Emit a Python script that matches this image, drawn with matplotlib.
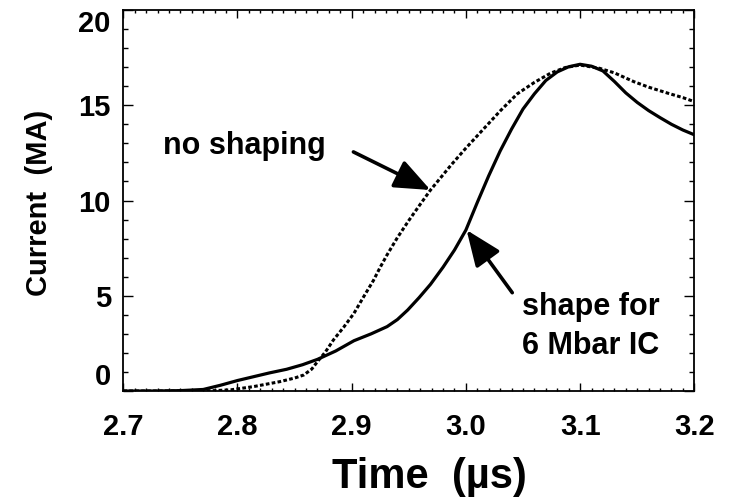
import matplotlib
matplotlib.use("Agg")
import matplotlib.pyplot as plt
from matplotlib.patches import FancyArrowPatch
from matplotlib.ticker import MultipleLocator

plt.rcParams['font.family'] = ['Liberation Sans', 'DejaVu Sans']
plt.rcParams['font.weight'] = 'bold'

# shape for 6 Mbar IC (solid)
t_shaped = [2.70, 2.726, 2.75, 2.770, 2.785, 2.80, 2.814, 2.828, 2.843, 2.857, 2.870,
            2.886, 2.902, 2.917, 2.931, 2.940, 2.949, 2.959, 2.969, 2.980, 2.990,
            3.000, 3.010, 3.020, 3.030, 3.040, 3.050, 3.060, 3.070, 3.080, 3.090,
            3.100, 3.110, 3.120, 3.130, 3.140, 3.150, 3.160, 3.170, 3.180, 3.190, 3.200]
i_shaped = [0.0, 0.0, 0.02, 0.08, 0.3, 0.55, 0.75, 0.95, 1.14, 1.38, 1.66,
            2.1, 2.64, 3.0, 3.38, 3.75, 4.25, 4.9, 5.6, 6.5, 7.4,
            8.45, 9.9, 11.3, 12.6, 13.75, 14.8, 15.6, 16.3, 16.75, 17.02,
            17.15, 17.05, 16.8, 16.25, 15.65, 15.15, 14.72, 14.35, 14.0, 13.7, 13.45]

# no shaping (dashed)
t_noshape = [2.70, 2.764, 2.78, 2.794, 2.814, 2.837, 2.850, 2.858, 2.865, 2.870, 2.877,
             2.884, 2.893, 2.902, 2.910, 2.919, 2.925, 2.931, 2.940, 2.950, 2.960,
             2.969, 2.980, 2.987, 3.000, 3.010, 3.020, 3.030, 3.045, 3.060, 3.074,
             3.087, 3.100, 3.117, 3.130, 3.147, 3.160, 3.177, 3.190, 3.200]
i_noshape = [0.0, 0.0, 0.02, 0.06, 0.23, 0.49, 0.68, 0.84, 1.15, 1.54, 2.05,
             2.68, 3.35, 4.08, 4.9, 5.8, 6.5, 7.15, 8.05, 8.95, 9.8,
             10.55, 11.35, 11.86, 12.75, 13.4, 14.05, 14.7, 15.6, 16.2, 16.68,
             16.98, 17.11, 16.94, 16.7, 16.24, 15.95, 15.63, 15.4, 15.19]

x_ticks = [2.7, 2.8, 2.9, 3.0, 3.1, 3.2]
x_ticklabels = ["2.7", "2.8", "2.9", "3.0", "3.1", "3.2"]
y_ticks = [0, 5, 10, 15, 20]
y_ticklabels = ["0", "5", "10", "15", "20"]

fig = plt.figure(figsize=(7.32, 5.00), dpi=100)
ax = fig.add_axes([123.3 / 732, 1 - 391 / 500, (694.3 - 123.3) / 732, (391 - 10) / 500])

ax.plot(t_noshape, i_noshape, color='black', lw=2.2, linestyle=(0, (1.2, 0.75)))
ax.plot(t_shaped, i_shaped, color='black', lw=2.3, solid_capstyle='round',
        solid_joinstyle='round')

ax.set_xlim(2.7, 3.2)
ax.set_ylim(0, 20)
ax.set_xticks(x_ticks)
ax.set_xticklabels(x_ticklabels)
ax.set_yticks(y_ticks)
ax.set_yticklabels(y_ticklabels)
ax.xaxis.set_minor_locator(MultipleLocator(0.01))
ax.yaxis.set_minor_locator(MultipleLocator(1))

ax.tick_params(axis='both', which='both', direction='in', top=True, right=True,
               width=1.0, colors='black')
ax.tick_params(axis='x', which='major', length=5.5, pad=16, labelsize=21)
ax.tick_params(axis='x', which='minor', length=2.5)
ax.tick_params(axis='y', which='major', length=7.5, pad=9, labelsize=21)
ax.tick_params(axis='y', which='minor', length=3.5)
for lab in ax.get_xticklabels() + ax.get_yticklabels():
    lab.set_fontweight('bold')
ylabs = ax.get_yticklabels()
ylabs[0].set_verticalalignment('bottom')
ylabs[-1].set_verticalalignment('top')
for sp in ax.spines.values():
    sp.set_linewidth(1.3)

ax.text(0.537, -0.2546, "Time  (\u00b5s)", transform=ax.transAxes, ha='center',
        va='baseline', fontsize=30, fontweight='bold')
ax.text(-0.1476, 0.493, "Current  (MA)", transform=ax.transAxes, ha='center',
        va='center', rotation=90, fontsize=21, fontweight='bold')

ax.text(2.735, 12.44, "no shaping", ha='left', va='baseline', fontsize=22,
        fontweight='bold')
ax.text(3.049, 3.99, "shape for", ha='left', va='baseline', fontsize=22,
        fontweight='bold')
ax.text(3.049, 1.94, "6 Mbar IC", ha='left', va='baseline', fontsize=22,
        fontweight='bold')

arrow_style = '-|>,head_length=1.1,head_width=0.45'
a1 = FancyArrowPatch((2.9015, 12.55), (2.969, 10.55), arrowstyle=arrow_style,
                     mutation_scale=20, lw=2.6, color='black', shrinkA=0, shrinkB=0)
a2 = FancyArrowPatch((3.0406, 5.16), (3.0006, 8.45), arrowstyle=arrow_style,
                     mutation_scale=20, lw=2.6, color='black', shrinkA=0, shrinkB=0)
ax.add_patch(a1)
ax.add_patch(a2)

fig.savefig("out.png", dpi=100)
